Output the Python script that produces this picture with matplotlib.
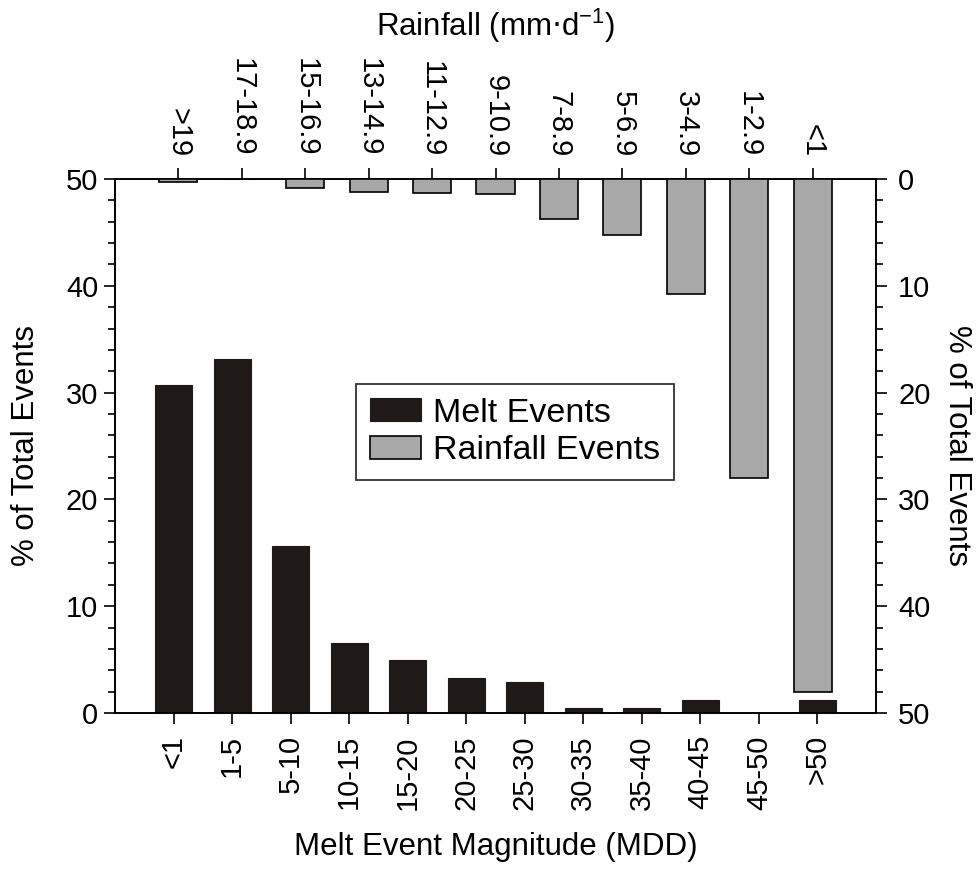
import matplotlib.pyplot as plt
import numpy as np

plt.rcParams['font.family'] = ['Liberation Sans', 'DejaVu Sans']

# melt event magnitude (MDD) classes, bottom axis
meltCats = ['<1', '1-5', '5-10', '10-15', '15-20', '20-25', '25-30',
            '30-35', '35-40', '40-45', '45-50', '>50']
meltPct = [30.7, 33.1, 15.6, 6.6, 5.0, 3.3, 2.9, 0.5, 0.5, 1.2, 0.0, 1.2]

# rainfall classes (mm/d), top axis
rainCats = ['>19', '17-18.9', '15-16.9', '13-14.9', '11-12.9', '9-10.9',
            '7-8.9', '5-6.9', '3-4.9', '1-2.9', '<1']
rainPct = [0.3, 0.0, 0.8, 1.2, 1.35, 1.45, 3.7, 5.2, 10.8, 28.0, 48.0]

meltColor = '#1f1a17'
rainColor = '#a8a8a8'
fs = 21
lfs = 22.5

fig = plt.figure(figsize=(9.79, 8.71), dpi=100)
pos = [0.1175, 0.1814, 0.7773, 0.6131]
ax = fig.add_axes(pos)
ax2 = fig.add_axes(pos, frameon=False)

xm = np.arange(len(meltCats))
b1 = ax.bar(xm, meltPct, width=0.63, color=meltColor, edgecolor=meltColor,
            linewidth=0.8, label='Melt Events')
ax.set_xlim(-1, 12)
ax.set_ylim(0, 50)
ax.set_xticks(xm)
ax.set_xticklabels(meltCats, rotation=90, fontsize=fs)
ax.set_yticks(range(0, 51, 10))
ax.set_yticks(range(0, 51, 2), minor=True)
ax.tick_params(axis='y', labelsize=fs, direction='out', length=8, width=1.2, pad=4)
ax.tick_params(axis='y', which='minor', direction='out', length=5, width=1.2)
ax.tick_params(axis='x', direction='out', length=8, width=1.2, pad=8)
ax.set_xlabel('Melt Event Magnitude (MDD)', fontsize=lfs, labelpad=16)
ax.set_ylabel('% of Total Events', fontsize=lfs, labelpad=18)
for s in ax.spines.values():
    s.set_linewidth(1.4)

xr = np.arange(len(rainCats))
b2 = ax2.bar(xr, rainPct, width=0.6, color=rainColor, edgecolor='black',
             linewidth=1.2, label='Rainfall Events')
ax2.set_xlim(-1, 11)
ax2.set_ylim(50, 0)
ax2.xaxis.tick_top()
ax2.xaxis.set_label_position('top')
ax2.yaxis.tick_right()
ax2.yaxis.set_label_position('right')
ax2.set_xticks(xr)
ax2.set_xticklabels(rainCats, rotation=270, fontsize=fs)
ax2.set_yticks(range(0, 51, 10))
ax2.set_yticks(range(0, 51, 2), minor=True)
ax2.tick_params(axis='y', labelsize=fs, direction='out', length=8, width=1.2, pad=8)
ax2.tick_params(axis='y', which='minor', direction='out', length=5, width=1.2)
ax2.tick_params(axis='x', direction='out', length=8, width=1.2, pad=8)
ax2.set_xlabel('Rainfall (mm$\\cdot$d$^{\\mathregular{-1}}$)', fontsize=lfs, labelpad=16)
ax2.set_ylabel('% of Total Events', fontsize=lfs, rotation=270, labelpad=30)

leg = ax2.legend([b1, b2], ['Melt Events', 'Rainfall Events'], fontsize=24.5,
                 loc='upper left', bbox_to_anchor=(0.317, 0.616),
                 fancybox=False, frameon=True, handlelength=1.5,
                 handleheight=0.65, borderpad=0.4, labelspacing=0.2,
                 handletextpad=0.35, borderaxespad=0)
leg.get_frame().set_edgecolor('black')
leg.get_frame().set_linewidth(1.3)

fig.savefig('out.png', dpi=100)
